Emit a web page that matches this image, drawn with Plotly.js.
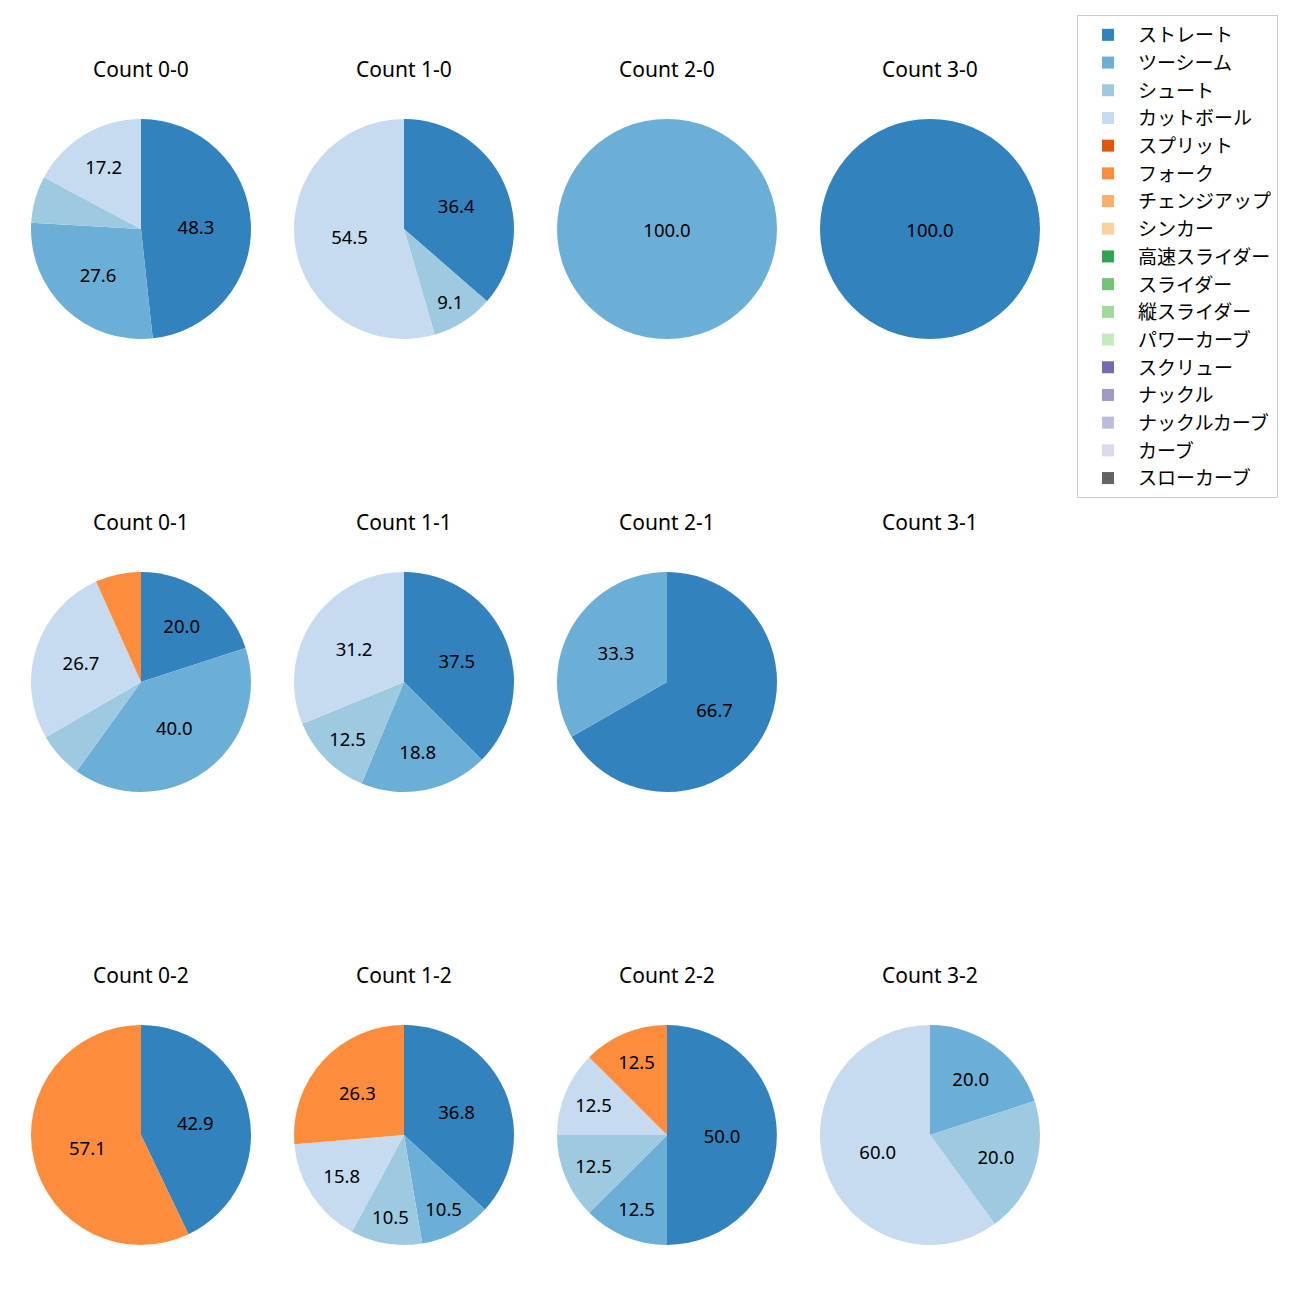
<!DOCTYPE html>
<html>
<head>
<meta charset="utf-8">
<script src="https://cdn.plot.ly/plotly-3.0.1.min.js"></script>
<style>body{margin:0;padding:0;background:#fff;}#chart{width:1300px;height:1300px;}</style>
</head>
<body>
<div id="chart"></div>
<script>
// Pitch types (legend order) and colours
const pitchTypes = ["ストレート","ツーシーム","シュート","カットボール","スプリット","フォーク","チェンジアップ","シンカー","高速スライダー","スライダー","縦スライダー","パワーカーブ","スクリュー","ナックル","ナックルカーブ","カーブ","スローカーブ"];
const pitchColors = ["#3182bd","#6baed6","#9ecae1","#c6dbef","#e6550d","#fd8d3c","#fdae6b","#fdd0a2","#31a354","#74c476","#a1d99b","#c7e9c0","#756bb1","#9e9ac8","#bcbddc","#dadaeb","#636363"];

// Count titles (row-major: balls across, strikes down)
const countTitles = ["Count 0-0","Count 1-0","Count 2-0","Count 3-0",
                     "Count 0-1","Count 1-1","Count 2-1","Count 3-1",
                     "Count 0-2","Count 1-2","Count 2-2","Count 3-2"];

// Percentages per count, in pitchTypes order (ストレート, ツーシーム, シュート, カットボール, スプリット, フォーク)
const c00 = [48.3, 27.6, 6.9, 17.2, 0, 0];
const c10 = [36.4, 0, 9.1, 54.5, 0, 0];
const c20 = [0, 100.0, 0, 0, 0, 0];
const c30 = [100.0, 0, 0, 0, 0, 0];
const c01 = [20.0, 40.0, 6.7, 26.7, 0, 6.7];
const c11 = [37.5, 18.8, 12.5, 31.2, 0, 0];
const c21 = [66.7, 33.3, 0, 0, 0, 0];
const c31 = [0, 0, 0, 0, 0, 0];
const c02 = [42.9, 0, 0, 0, 0, 57.1];
const c12 = [36.8, 10.5, 10.5, 15.8, 0, 26.3];
const c22 = [50.0, 12.5, 12.5, 12.5, 0, 12.5];
const c32 = [0, 20.0, 20.0, 60.0, 0, 0];
const countValues = [c00,c10,c20,c30,c01,c11,c21,c31,c02,c12,c22,c32];

// Layout geometry (pixels)
const W = 1300, H = 1300;
const colCenters = [141, 404, 667, 930];
const rowCenters = [229, 682, 1135];
const R = 110;
const titleOffset = 160;
const FONT = 'Noto Sans, Noto Sans CJK JP, sans-serif';

const traces = [];
const annotations = [];
countValues.forEach((vals, i) => {
  const col = i % 4, row = Math.floor(i / 4);
  const cx = colCenters[col], cy = rowCenters[row];
  annotations.push({
    text: countTitles[i], xref: 'paper', yref: 'paper',
    x: cx / W, y: 1 - (cy - titleOffset) / H, xanchor: 'center', yanchor: 'middle',
    showarrow: false, font: {family: FONT, size: 21, color: '#000'}
  });
  const total = vals.reduce((a, b) => a + b, 0);
  if (total === 0) return;
  const values = pitchTypes.map((_, k) => k < vals.length ? vals[k] : 0);
  const text = values.map(v => v >= 8 ? v.toFixed(1) : '');
  traces.push({
    type: 'pie', labels: pitchTypes, values: values, text: text,
    textinfo: 'text', textposition: 'inside', insidetextorientation: 'horizontal',
    insidetextfont: {family: FONT, size: 18.5, color: '#000'},
    sort: false, direction: 'clockwise', rotation: 0,
    marker: {colors: pitchColors, line: {width: 0}},
    domain: {x: [(cx - R) / W, (cx + R) / W], y: [1 - (cy + R) / H, 1 - (cy - R) / H]},
    hoverinfo: 'skip', showlegend: true
  });
});

const layout = {
  width: W, height: H, margin: {l: 0, r: 0, t: 0, b: 0},
  paper_bgcolor: '#fff', plot_bgcolor: '#fff',
  font: {family: FONT, color: '#000'},
  annotations: annotations,
  showlegend: true,
  legend: {
    x: 1077 / W, y: 1 - 15 / H, xanchor: 'left', yanchor: 'top',
    bgcolor: '#fff', bordercolor: '#cccccc', borderwidth: 1,
    font: {family: 'Noto Sans CJK JP', size: 19, color: '#000'},
    itemwidth: 50, traceorder: 'normal'
  }
};

Plotly.newPlot('chart', traces, layout, {displayModeBar: false, staticPlot: true});
</script>
</body>
</html>
